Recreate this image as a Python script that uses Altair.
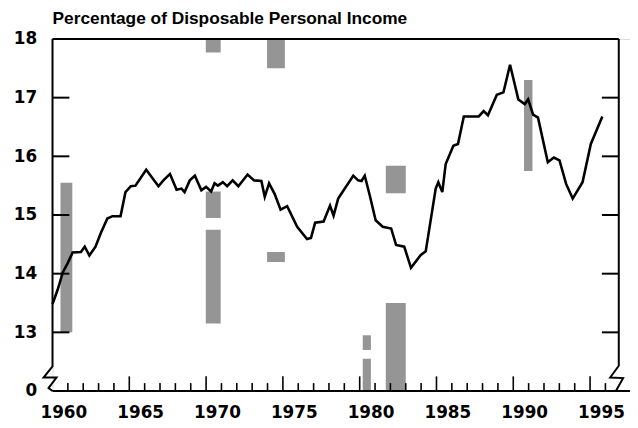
import altair as alt
import pandas as pd

# ---- data ----
years = [1960.0, 1960.34, 1960.67, 1960.99, 1961.31, 1961.85, 1962.1, 1962.4, 1962.8,
         1963.14, 1963.57, 1963.9, 1964.43, 1964.75, 1965.1, 1965.4, 1966.1, 1966.9,
         1967.22, 1967.65, 1968.08, 1968.4, 1968.6, 1968.94, 1969.27, 1969.69, 1970.0,
         1970.33, 1970.55, 1970.77, 1971.09, 1971.37, 1971.73, 1972.1, 1972.7, 1973.13,
         1973.6, 1973.82, 1974.1, 1974.46, 1974.85, 1975.28, 1975.93, 1976.57, 1976.83,
         1977.1, 1977.65, 1978.07, 1978.3, 1978.6, 1979.58, 1979.9, 1980.12, 1980.33,
         1980.65, 1981.04, 1981.5, 1982.05, 1982.37, 1982.9, 1983.34, 1983.98, 1984.3,
         1984.95, 1985.12, 1985.38, 1985.6, 1986.1, 1986.4, 1986.78, 1987.75, 1988.07,
         1988.35, 1988.93, 1989.36, 1989.79, 1990.33, 1990.75, 1990.97, 1991.29, 1991.61,
         1992.25, 1992.64, 1993.01, 1993.44, 1993.87, 1994.51, 1995.05, 1995.8]
values = [13.48, 13.73, 14.02, 14.18, 14.36, 14.37, 14.46, 14.31, 14.46,
          14.69, 14.94, 14.98, 14.98, 15.39, 15.49, 15.50, 15.77, 15.49,
          15.59, 15.70, 15.43, 15.45, 15.39, 15.59, 15.67, 15.42, 15.48,
          15.40, 15.54, 15.50, 15.56, 15.49, 15.59, 15.49, 15.69, 15.59,
          15.58, 15.31, 15.54, 15.36, 15.09, 15.15, 14.80, 14.59, 14.61,
          14.87, 14.89, 15.16, 14.99, 15.28, 15.67, 15.59, 15.58, 15.67,
          15.34, 14.91, 14.80, 14.77, 14.49, 14.46, 14.10, 14.32, 14.38,
          15.45, 15.56, 15.39, 15.87, 16.18, 16.21, 16.68, 16.68, 16.77,
          16.70, 17.05, 17.09, 17.56, 16.97, 16.89, 16.97, 16.71, 16.66,
          15.90, 15.98, 15.93, 15.53, 15.28, 15.56, 16.21, 16.68]

# recession shading fragments (start, end, low, high)
shade_x1 = [1960.52, 1969.98, 1969.98, 1969.98, 1973.97, 1973.97, 1980.2, 1980.2, 1981.7, 1981.7, 1990.7]
shade_x2 = [1961.29, 1970.95, 1970.95, 1970.95, 1975.13, 1975.13, 1980.73, 1980.73, 1983.0, 1983.0, 1991.25]
shade_y1 = [13.0, 17.77, 14.95, 13.15, 17.5, 14.2, 12.0, 12.7, 15.37, 12.0, 15.75]
shade_y2 = [15.55, 18.0, 15.4, 14.75, 18.0, 14.37, 12.55, 12.95, 15.84, 13.5, 17.3]

label_years = [1960, 1965, 1970, 1975, 1980, 1985, 1990, 1995]
minor_tick_years = [1961, 1962, 1963, 1964, 1966, 1967, 1968, 1969, 1971, 1972, 1973, 1974,
                    1976, 1977, 1978, 1979, 1981, 1982, 1983, 1984, 1986, 1987, 1988, 1989,
                    1991, 1992, 1993, 1994, 1996]
major_tick_years = [1965, 1970, 1975, 1980, 1985, 1990, 1995]
y_tick_values = [13, 14, 15, 16, 17]
y_label_values = [12, 13, 14, 15, 16, 17, 18]

# axis-break outlines (in data units)
left_break_x = [1960.0, 1960.0, 1959.42, 1960.26, 1959.74, 1960.0]
left_break_y = [18.0, 12.42, 12.23, 12.23, 12.05, 12.0]
right_break_x = [1996.87, 1996.87, 1996.31, 1997.15, 1996.7]
right_break_y = [18.0, 12.43, 12.23, 12.22, 12.01]

X0, X1 = 1960.0, 1997.6
XR = 1996.87
Y0, Y1 = 12, 18

xs = alt.Scale(domain=[X0, X1], nice=False, zero=False)
ys = alt.Scale(domain=[Y0, Y1], nice=False, zero=False)

TICKFONT = "DejaVu Sans"

x_axis = alt.Axis(values=label_years, format="d", labelOffset=11, ticks=False,
                  domain=False, grid=False, labelPadding=14, labelFlush=False,
                  labelFont=TICKFONT, labelFontSize=17, labelFontWeight="bold",
                  labelColor="black", labelOverlap=False, title=None)
y_axis = alt.Axis(values=y_label_values, ticks=False, domain=False, grid=False,
                  labelPadding=16, labelFont=TICKFONT, labelFontSize=17,
                  labelFontWeight="bold", labelColor="black", labelFlush=False,
                  labelOverlap=False, title=None,
                  labelExpr="datum.value == 12 ? '0' : datum.label")

line_df = pd.DataFrame({"year": years, "value": values})
shade_df = pd.DataFrame({"x1": shade_x1, "x2": shade_x2, "y1": shade_y1, "y2": shade_y2})

shade = alt.Chart(shade_df).mark_rect(color="#959595").encode(
    x=alt.X("x1:Q", scale=xs, axis=x_axis), x2="x2:Q",
    y=alt.Y("y1:Q", scale=ys, axis=y_axis), y2="y2:Q")

line = alt.Chart(line_df).mark_line(color="black", strokeWidth=2.6).encode(
    x=alt.X("year:Q", scale=xs, axis=x_axis),
    y=alt.Y("value:Q", scale=ys, axis=y_axis))

# x ticks (upward from the baseline)
xt_df = pd.DataFrame({"year": minor_tick_years + major_tick_years,
                      "base": [12] * (len(minor_tick_years) + len(major_tick_years)),
                      "top": [12.135] * len(minor_tick_years) + [12.25] * len(major_tick_years)})
xticks = alt.Chart(xt_df).mark_rule(color="black", strokeWidth=1.6).encode(
    x=alt.X("year:Q", scale=xs, axis=x_axis),
    y=alt.Y("base:Q", scale=ys, axis=y_axis), y2="top:Q")

# y ticks (inward, both sides)
yt_df = pd.DataFrame({"v": y_tick_values * 2,
                      "xa": [X0] * 5 + [1995.77] * 5,
                      "xb": [1961.1] * 5 + [XR] * 5})
yticks = alt.Chart(yt_df).mark_rule(color="black", strokeWidth=2).encode(
    x=alt.X("xa:Q", scale=xs, axis=x_axis), x2="xb:Q",
    y=alt.Y("v:Q", scale=ys, axis=y_axis))

# frame: top and bottom lines
frame_df = pd.DataFrame({"v": [18, 12], "xa": [X0, X0], "xb": [XR, X1]})
frame = alt.Chart(frame_df).mark_rule(color="black", strokeWidth=2).encode(
    x=alt.X("xa:Q", scale=xs, axis=x_axis), x2="xb:Q",
    y=alt.Y("v:Q", scale=ys, axis=y_axis))

lb_df = pd.DataFrame({"x": left_break_x, "y": left_break_y, "o": list(range(len(left_break_x)))})
rb_df = pd.DataFrame({"x": right_break_x, "y": right_break_y, "o": list(range(len(right_break_x)))})
lbreak = alt.Chart(lb_df).mark_line(color="black", strokeWidth=2).encode(
    x=alt.X("x:Q", scale=xs, axis=x_axis), y=alt.Y("y:Q", scale=ys, axis=y_axis), order="o:Q")
rbreak = alt.Chart(rb_df).mark_line(color="black", strokeWidth=2).encode(
    x=alt.X("x:Q", scale=xs, axis=x_axis), y=alt.Y("y:Q", scale=ys, axis=y_axis), order="o:Q")

chart = alt.layer(shade, line, xticks, yticks, frame, lbreak, rbreak).properties(
    width=584, height=356,
    padding={"left": 45, "top": 29, "right": 0, "bottom": 30},
    autosize=alt.AutoSizeParams(type="none"),
    title=alt.TitleParams("Percentage of Disposable Personal Income", anchor="start",
                          frame="group", font="Liberation Sans", fontSize=17.5,
                          fontWeight="bold", color="black", offset=3),
).configure_view(stroke=None).configure(background="white")

chart.save("out.html", embed_options={"renderer": "svg", "actions": False})
